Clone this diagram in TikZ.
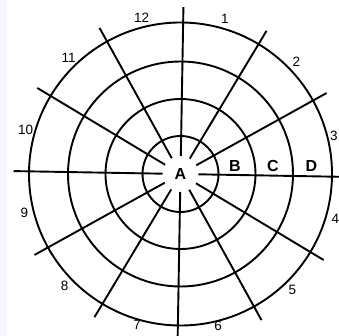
\documentclass[tikz,border=0pt]{standalone}
\usepackage{fontspec}
\setmainfont{Liberation Sans}
\begin{document}
\begin{tikzpicture}[x=1pt,y=1pt,
  ring/.style={line width=1.9pt,black},
  spoke/.style={line width=1.9pt,black},
  numlabel/.style={font=\fontsize{13.5}{15}\selectfont,inner sep=0pt},
  zonelabel/.style={font=\fontsize{16}{18}\selectfont\bfseries,inner sep=0pt}]
\useasboundingbox (0,0) rectangle (339,-336);
\fill[white] (0,0) rectangle (339,-336);
\fill[blue!4] (0,0) rectangle (7,-336);
\coordinate (O) at (180.5,-174);
\begin{scope}[shift={(O)}]
  \foreach \r in {38,75,112.5,151.5} \draw[ring] (0,0) circle (\r);
  \foreach \a in {0,30,...,330} {
    \coordinate (s\a) at (\a-1:18);
    \coordinate (e\a) at (\a-1:167);
    \draw[spoke] (s\a) -- (e\a);
  }
  \foreach \k/\rr in {1/161,2/161,3/158,4/161,5/161,6/156,7/157,8/161,9/161,10/161,11/161,12/161} {
    \pgfmathsetmacro{\ang}{105-30*\k-1}
    \node[numlabel] (n\k) at (\ang:\rr) {\k};
  }
  \node[zonelabel] (A) at (0,0.5) {A};
  \node[zonelabel] (B) at (54.5,8) {B};
  \node[zonelabel] (C) at (92.5,8) {C};
  \node[zonelabel] (D) at (131,8) {D};
\end{scope}
\end{tikzpicture}
\end{document}
